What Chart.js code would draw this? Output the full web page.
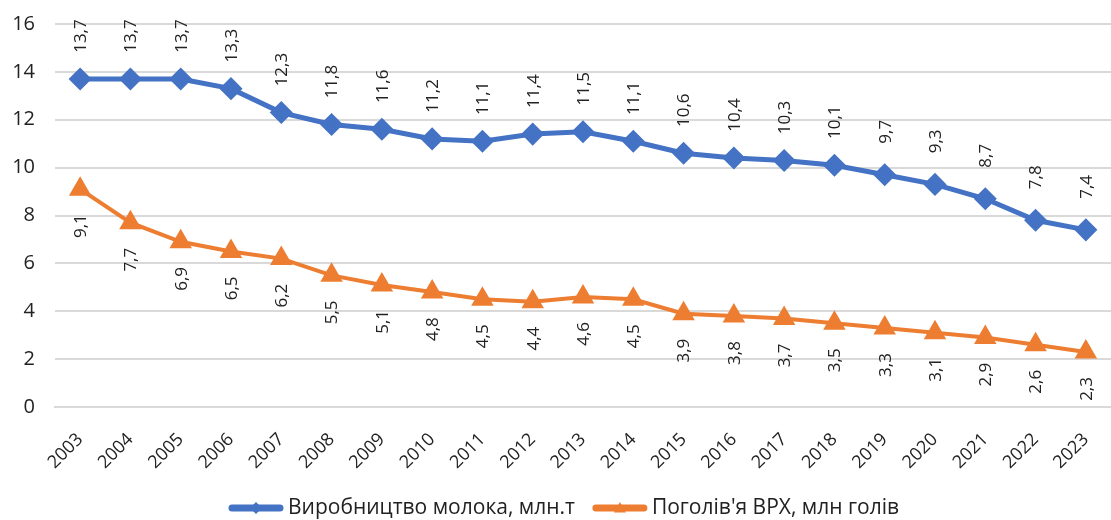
<!DOCTYPE html>
<html>
<head>
<meta charset="utf-8">
<script src="https://cdn.jsdelivr.net/npm/chart.js@4/dist/chart.umd.min.js"></script>
<style>
  html, body { margin: 0; padding: 0; background: #fff; overflow: hidden; }
  #wrap { width: 1111px; height: 520px; }
  canvas { display: block; }
</style>
</head>
<body>
<div id="wrap"><canvas id="chart" width="1111" height="520"></canvas></div>
<script>
const years = ['2003','2004','2005','2006','2007','2008','2009','2010','2011','2012','2013',
               '2014','2015','2016','2017','2018','2019','2020','2021','2022','2023'];
const milk = [13.7,13.7,13.7,13.3,12.3,11.8,11.6,11.2,11.1,11.4,11.5,11.1,10.6,10.4,10.3,10.1,9.7,9.3,8.7,7.8,7.4];
const cattle = [9.1,7.7,6.9,6.5,6.2,5.5,5.1,4.8,4.5,4.4,4.6,4.5,3.9,3.8,3.7,3.5,3.3,3.1,2.9,2.6,2.3];
const yTicks = [0, 2, 4, 6, 8, 10, 12, 14, 16];

const BLUE = '#4472C4';
const ORANGE = '#ED7D31';
const FONT = "'Open Sans', 'Liberation Sans', sans-serif";

function drawMarker(ctx, style, x, y, r) {
    ctx.beginPath();
    if (style === 'rectRot') {
        ctx.moveTo(x, y - r);
        ctx.lineTo(x + r, y);
        ctx.lineTo(x, y + r);
        ctx.lineTo(x - r, y);
    } else {
        ctx.moveTo(x, y - r);
        ctx.lineTo(x + r, y + r * 0.75);
        ctx.lineTo(x - r, y + r * 0.75);
    }
    ctx.closePath();
    ctx.fill();
}

// підписи значень, повернуті вертикально
const valueLabels = {
    id: 'valueLabels',
    afterDatasetsDraw(chart) {
        const ctx = chart.ctx;
        ctx.save();
        ctx.font = '17px ' + FONT;
        ctx.fillStyle = '#222';
        ctx.textAlign = 'center';
        ctx.textBaseline = 'middle';
        chart.data.datasets.forEach((ds, di) => {
            const meta = chart.getDatasetMeta(di);
            meta.data.forEach((pt, i) => {
                const txt = ds.data[i].toFixed(1).replace('.', ',');
                const dy = di === 0 ? -43 : 37;
                ctx.save();
                ctx.translate(pt.x + 1, pt.y + dy);
                ctx.rotate(-Math.PI / 2);
                ctx.fillText(txt, 0, 0);
                ctx.restore();
            });
        });
        ctx.restore();
    }
};

// легенда як в Excel: лінія з маркером
const lineLegend = {
    id: 'lineLegend',
    afterDraw(chart) {
        const ctx = chart.ctx;
        const y = 508;
        const lineW = 54, gapText = 5, gapItem = 18;
        ctx.save();
        ctx.font = '21px ' + FONT;
        const items = chart.data.datasets.map(ds => ({
            ds, w: ctx.measureText(ds.label).width
        }));
        let total = 0;
        items.forEach((it, i) => { total += lineW + gapText + it.w + (i ? gapItem : 0); });
        let x = 564 - total / 2;
        items.forEach((it, i) => {
            if (i) x += gapItem;
            ctx.strokeStyle = it.ds.borderColor;
            ctx.fillStyle = it.ds.borderColor;
            ctx.lineWidth = 7;
            ctx.lineCap = 'round';
            ctx.beginPath();
            ctx.moveTo(x + 3, y);
            ctx.lineTo(x + lineW - 3, y);
            ctx.stroke();
            drawMarker(ctx, it.ds.pointStyle, x + lineW / 2, y, 6);
            x += lineW + gapText;
            ctx.fillStyle = '#222';
            ctx.textAlign = 'left';
            ctx.textBaseline = 'middle';
            ctx.fillText(it.ds.label, x, y);
            x += it.w;
        });
        ctx.restore();
    }
};

new Chart(document.getElementById('chart'), {
    type: 'line',
    data: {
        labels: years,
        datasets: [{
            label: 'Виробництво молока, млн.т',
            data: milk,
            borderColor: BLUE,
            backgroundColor: BLUE,
            borderWidth: 5,
            pointStyle: 'rectRot',
            pointRadius: 8,
            pointBackgroundColor: BLUE,
            pointBorderColor: BLUE,
            tension: 0
        }, {
            label: "Поголів'я ВРХ, млн голів",
            data: cattle,
            borderColor: ORANGE,
            backgroundColor: ORANGE,
            borderWidth: 4,
            pointStyle: 'triangle',
            pointRadius: 9,
            pointBackgroundColor: ORANGE,
            pointBorderColor: ORANGE,
            tension: 0
        }]
    },
    options: {
        responsive: false,
        animation: false,
        layout: { autoPadding: false, padding: { top: 24, right: -2, left: 0, bottom: 48 } },
        plugins: {
            legend: { display: false },
            tooltip: { enabled: false }
        },
        scales: {
            x: {
                offset: true,
                grid: { display: false },
                border: { display: true, color: '#d9d9d9', width: 2 },
                ticks: {
                    minRotation: 45,
                    maxRotation: 45,
                    color: '#222',
                    padding: 14,
                    font: { family: FONT, size: 18 }
                },
                afterFit(axis) {
                    axis.height = 65;
                    axis.paddingLeft = 0;
                    axis.paddingRight = 0;
                }
            },
            y: {
                min: 0,
                max: 16,
                afterBuildTicks(axis) { axis.ticks = yTicks.map(v => ({ value: v })); },
                grid: { color: '#d9d9d9', lineWidth: 2, drawTicks: false },
                border: { display: false },
                ticks: {
                    color: '#222',
                    padding: 20,
                    font: { family: FONT, size: 20 }
                },
                afterFit(axis) {
                    axis.width = 55;
                    axis.paddingTop = 0;
                    axis.paddingBottom = 0;
                }
            }
        }
    },
    plugins: [valueLabels, lineLegend]
});
</script>
</body>
</html>
